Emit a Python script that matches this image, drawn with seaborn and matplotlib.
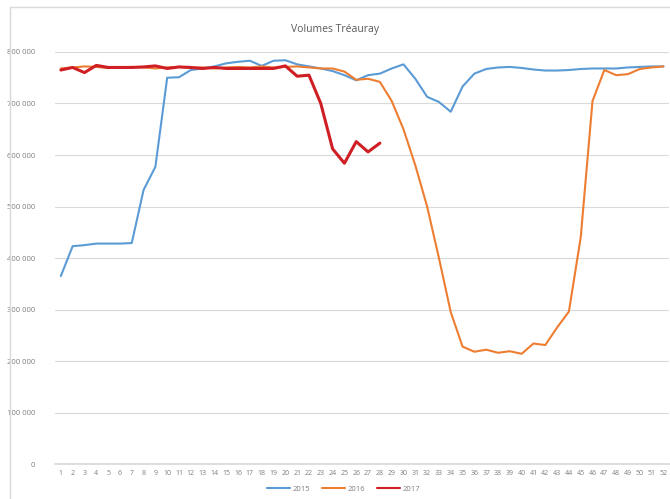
import matplotlib
matplotlib.use("Agg")
import matplotlib.pyplot as plt
import matplotlib.ticker as mticker
from matplotlib.patches import Rectangle
import pandas as pd
import seaborn as sns

# weekly volumes
weeks = list(range(1, 53))

vol_2015 = [365000, 423000, 425000, 428000, 428000, 428000, 429000, 532000, 577000, 750000,
            751000, 765000, 768000, 772000, 778000, 781000, 783000, 773000, 783000, 784000,
            776000, 772000, 768000, 763000, 755000, 745000, 755000, 758000, 768000, 776000,
            748000, 713000, 703000, 684000, 733000, 758000, 767000, 770000, 771000, 769000,
            766000, 764000, 764000, 765000, 767000, 768000, 768000, 768000, 770000, 771000,
            772000, 772000]

vol_2016 = [768000, 770000, 772000, 771000, 769000, 770000, 771000, 770000, 768000, 770000,
            771000, 769000, 770000, 768000, 770000, 771000, 770000, 772000, 770000, 771000,
            772000, 770000, 768000, 768000, 762000, 746000, 748000, 742000, 705000, 650000,
            580000, 500000, 400000, 295000, 228000, 218000, 222000, 216000, 219000, 214000,
            234000, 231000, 265000, 296000, 440000, 705000, 765000, 755000, 757000, 767000,
            770000, 772000]

vol_2017 = [765000, 770000, 760000, 774000, 770000, 770000, 770000, 771000, 773000, 768000,
            771000, 770000, 768000, 770000, 768000, 768000, 768000, 768000, 768000, 773000,
            753000, 755000, 700000, 612000, 584000, 626000, 606000, 623000]

years = ["2015", "2016", "2017"]
series = [vol_2015, vol_2016, vol_2017]
palette = {"2015": "#5B9BD5", "2016": "#ED7D31", "2017": "#D01E25"}
widths = {"2015": 1.5, "2016": 1.5, "2017": 2.2}

frames = []
for yr, vals in zip(years, series):
    frames.append(pd.DataFrame({"week": weeks[:len(vals)], "volume": vals, "year": yr}))
df = pd.concat(frames, ignore_index=True)

sns.set_theme(style="white")
plt.rcParams["font.family"] = ["Open Sans", "DejaVu Sans"]

fig = plt.figure(figsize=(6.70, 4.99), dpi=100)
ax = fig.add_axes([0.082, 0.0701, 0.917, 0.8257])

sns.lineplot(data=df, x="week", y="volume", hue="year", palette=palette,
             linewidth=1.5, ax=ax, legend=True)
for line, yr in zip(ax.lines, years):
    line.set_linewidth(widths[yr])

ax.set_xlim(0.5, 52.5)
ax.set_ylim(0, 800000)
ax.set_xticks(weeks)
ax.set_xticklabels([str(w) for w in weeks])
ax.yaxis.set_major_locator(mticker.MultipleLocator(100000))
ax.yaxis.set_major_formatter(mticker.FuncFormatter(lambda v, _: f"{v:,.0f}".replace(",", " ")))
ax.tick_params(axis="x", labelsize=5, colors="#7F7F7F", length=0, pad=4)
ax.tick_params(axis="y", labelsize=5.5, colors="#7F7F7F", length=0, pad=14)
ax.grid(axis="y", color="#D9D9D9", linewidth=0.8)
ax.set_axisbelow(True)
for s in ["top", "right", "left"]:
    ax.spines[s].set_visible(False)
ax.spines["bottom"].set_color("#D9D9D9")
ax.set_xlabel("")
ax.set_ylabel("")

ax.legend(loc="upper center", bbox_to_anchor=(0.47, -0.035), ncol=3, frameon=False,
          fontsize=5.5, handlelength=3.0, columnspacing=1.5, handletextpad=0.4,
          labelcolor="#7F7F7F")

fig.text(0.5, 0.94, "Volumes Tréauray", ha="center", va="center", fontsize=7.5,
         color="#595959")

# chart area border
fig.patches.append(Rectangle((0.015, -0.01), 1.0, 0.995, transform=fig.transFigure,
                             fill=False, edgecolor="#D9D9D9", linewidth=1.0))

fig.savefig("out.png", dpi=100)
